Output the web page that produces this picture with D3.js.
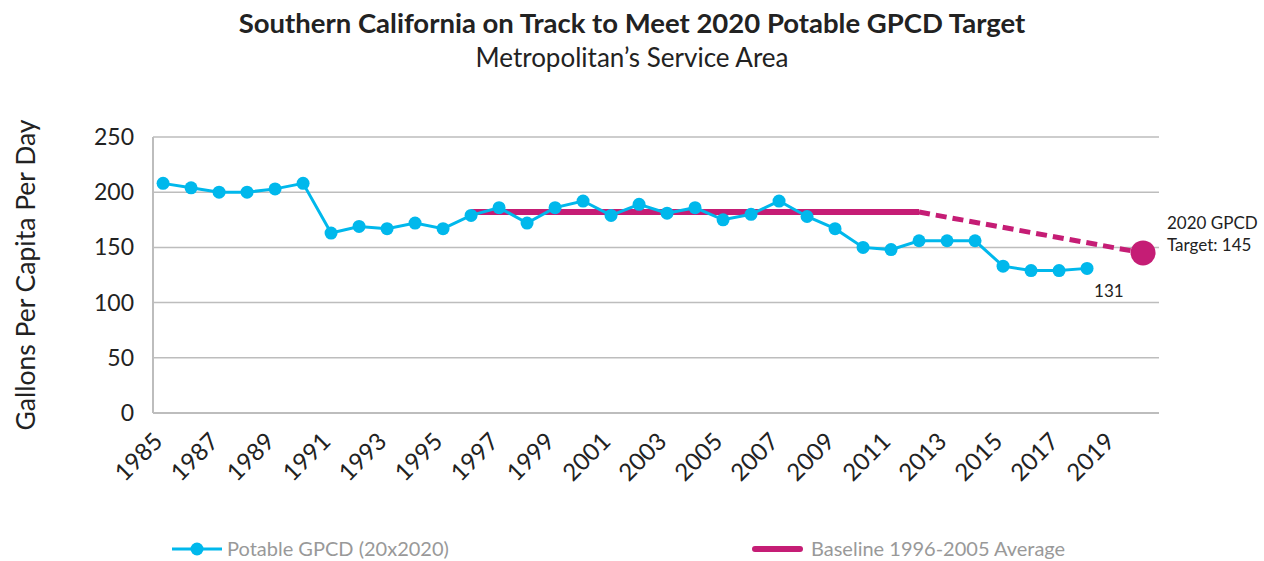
<!DOCTYPE html>
<html lang="en">
<head>
  <meta charset="UTF-8">
  <title>Potable GPCD</title>
  <script src="https://d3js.org/d3.v7.min.js"></script>
  <style>
    body { margin: 0; background: #fff; font-family: Lato, "Open Sans", sans-serif; }
    .grid line { stroke: #bdbdbd; stroke-width: 1.5px; }
    .axis-line { stroke: #bdbdbd; stroke-width: 2px; }
  </style>
</head>
<body>
  <div id="chart"></div>
  <script>
    // Data
    const years = d3.range(1985, 2019);
    const gpcd = [208, 204, 200, 200, 203, 208, 163, 169, 167, 172, 167, 179,
                  186, 172, 186, 192, 179, 189, 181, 186, 175, 180, 192, 178,
                  167, 150, 148, 156, 156, 156, 133, 129, 129, 131];
    const baselineYears = [1996, 2012];
    const baselineValue = 182;
    const targetYear = 2020;
    const targetValue = 145;
    const xTicks = d3.range(1985, 2020, 2);
    const yTicks = [0, 50, 100, 150, 200, 250];

    const width = 1264, height = 561;
    const plotLeft = 153, plotRight = 1159, plotTop = 137, plotBottom = 413;

    const cyan = "#00b8ec";
    const pink = "#c51d75";

    const svg = d3.select("#chart").append("svg")
      .attr("width", width)
      .attr("height", height);

    const x = d3.scaleLinear().domain([1984.64, 2020.57]).range([plotLeft, plotRight]);
    const y = d3.scaleLinear().domain([0, 250]).range([plotBottom, plotTop]);

    // Titles
    svg.append("text")
      .attr("x", 632).attr("y", 33)
      .attr("text-anchor", "middle")
      .style("font-size", "27.5px").style("font-weight", "bold").style("fill", "#222")
      .text("Southern California on Track to Meet 2020 Potable GPCD Target");
    svg.append("text")
      .attr("x", 632).attr("y", 67)
      .attr("text-anchor", "middle")
      .style("font-size", "26px").style("fill", "#222")
      .text("Metropolitan’s Service Area");

    // Grid lines
    svg.append("g").attr("class", "grid")
      .selectAll("line").data(yTicks.filter(d => d > 0))
      .join("line")
      .attr("x1", plotLeft).attr("x2", plotRight)
      .attr("y1", d => y(d)).attr("y2", d => y(d));

    svg.append("line").attr("class", "axis-line")
      .attr("x1", plotLeft).attr("x2", plotLeft).attr("y1", plotTop).attr("y2", plotBottom);
    svg.append("line").attr("class", "axis-line")
      .attr("x1", plotLeft).attr("x2", plotRight).attr("y1", plotBottom).attr("y2", plotBottom);

    // Y axis labels
    svg.append("g").selectAll("text").data(yTicks)
      .join("text")
      .attr("x", 134).attr("y", d => y(d) + 8)
      .attr("text-anchor", "end")
      .style("font-size", "23px").style("fill", "#222")
      .text(d => d);

    svg.append("text")
      .attr("transform", `translate(35, ${(plotTop + plotBottom) / 2}) rotate(-90)`)
      .attr("text-anchor", "middle")
      .style("font-size", "26.5px").style("fill", "#222")
      .text("Gallons Per Capita Per Day");

    // X axis labels
    svg.append("g").selectAll("text").data(xTicks)
      .join("text")
      .attr("transform", d => `translate(${x(d) + 1}, ${plotBottom + 30}) rotate(-45)`)
      .attr("text-anchor", "end")
      .style("font-size", "24px").style("fill", "#222")
      .text(d => d);

    // Baseline
    svg.append("line")
      .attr("x1", x(baselineYears[0])).attr("x2", x(baselineYears[1]))
      .attr("y1", y(baselineValue)).attr("y2", y(baselineValue))
      .attr("stroke", pink).attr("stroke-width", 6);

    svg.append("path")
      .attr("d", `M${x(baselineYears[1])},${y(baselineValue)} L${x(targetYear)},${y(targetValue)}`)
      .attr("fill", "none")
      .attr("stroke", pink).attr("stroke-width", 5)
      .attr("stroke-dasharray", "11,6");

    // GPCD series
    const pts = years.map((yr, i) => [yr, gpcd[i]]);
    svg.append("path")
      .datum(pts)
      .attr("fill", "none")
      .attr("stroke", cyan).attr("stroke-width", 3)
      .attr("d", d3.line().x(d => x(d[0])).y(d => y(d[1])));

    svg.append("g").selectAll("circle").data(pts)
      .join("circle")
      .attr("cx", d => x(d[0])).attr("cy", d => y(d[1]))
      .attr("r", 6.5).attr("fill", cyan);

    // Target
    svg.append("circle")
      .attr("cx", x(targetYear)).attr("cy", y(targetValue))
      .attr("r", 12.5).attr("fill", pink);

    svg.append("text")
      .attr("x", x(2018) + 7).attr("y", y(gpcd[gpcd.length - 1]) + 29)
      .style("font-size", "17px").style("fill", "#222")
      .text("131");

    const tl = svg.append("text")
      .attr("x", 1167).attr("y", 229)
      .style("font-size", "17px").style("fill", "#222");
    tl.append("tspan").attr("x", 1167).text("2020 GPCD");
    tl.append("tspan").attr("x", 1167).attr("dy", 22).text("Target: 145");

    // Legend
    const lg = svg.append("g");
    lg.append("line")
      .attr("x1", 172).attr("x2", 222).attr("y1", 549).attr("y2", 549)
      .attr("stroke", cyan).attr("stroke-width", 3);
    lg.append("circle").attr("cx", 197).attr("cy", 549).attr("r", 6.5).attr("fill", cyan);
    lg.append("text")
      .attr("x", 227).attr("y", 556)
      .style("font-size", "20px").style("fill", "#999")
      .text("Potable GPCD (20x2020)");

    lg.append("line")
      .attr("x1", 755).attr("x2", 800).attr("y1", 549).attr("y2", 549)
      .attr("stroke", pink).attr("stroke-width", 6)
      .attr("stroke-linecap", "round");
    lg.append("text")
      .attr("x", 811).attr("y", 556)
      .style("font-size", "20px").style("fill", "#999")
      .text("Baseline 1996-2005 Average");
  </script>
</body>
</html>
